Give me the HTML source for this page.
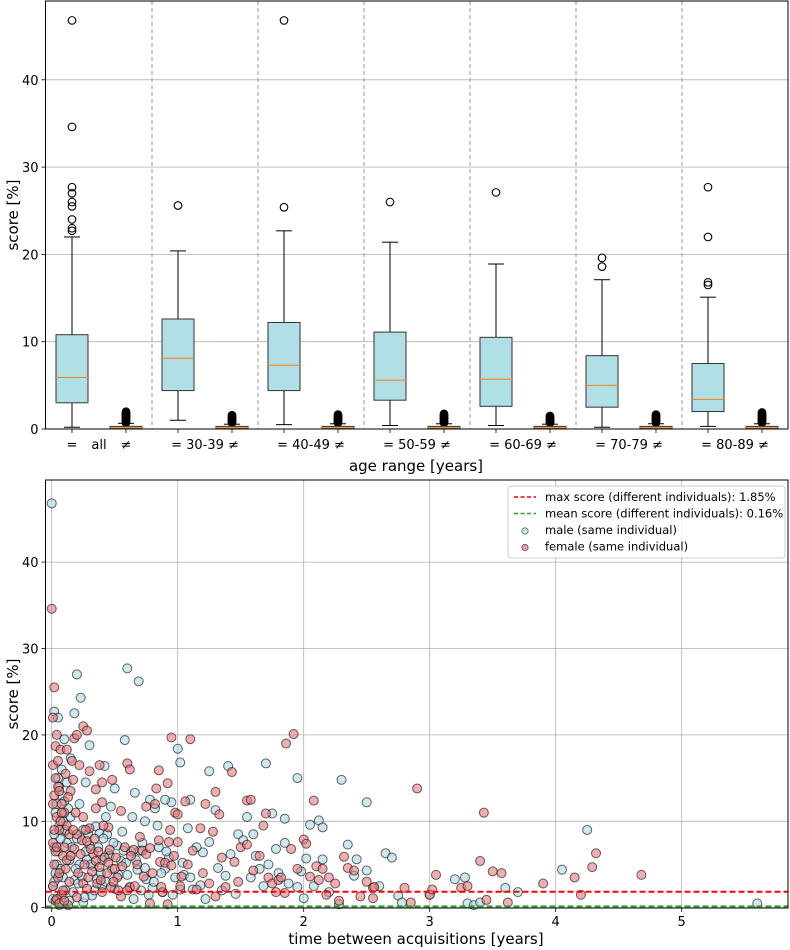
<!DOCTYPE html>
<html><head><meta charset="utf-8"><style>
body{margin:0;background:#fff}
svg{display:block;font-family:"DejaVu Sans","Liberation Sans",sans-serif}
</style></head><body>
<svg id="chart" width="790" height="950" xmlns="http://www.w3.org/2000/svg">
<g id="topPanel"></g>
<g id="botPanel"></g>
</svg>
<script>
// ---- boxplot data ----
const groups = ["all","30-39","40-49","50-59","60-69","70-79","80-89"];
const eqLow = [0.2,1.0,0.5,0.4,0.4,0.2,0.3];
const eqQ1 = [3.0,4.4,4.4,3.3,2.6,2.5,2.0];
const eqMed = [5.9,8.1,7.3,5.6,5.7,5.0,3.4];
const eqQ3 = [10.8,12.6,12.2,11.1,10.5,8.4,7.5];
const eqHigh = [22.0,20.4,22.7,21.4,18.9,17.1,15.1];
const eqOutliers = [[22.7,23.0,24.0,25.5,26.0,27.0,27.7,34.6,46.8],[25.6],[25.4,46.8],[26.0],[27.1],[18.6,19.6],[16.5,16.8,22.0,27.7]];
const neqLow = [0,0,0,0,0,0,0];
const neqQ1 = [0.05,0.05,0.05,0.05,0.05,0.05,0.05];
const neqMed = [0.15,0.15,0.15,0.15,0.15,0.15,0.15];
const neqQ3 = [0.3,0.3,0.3,0.3,0.3,0.3,0.3];
const neqHigh = [0.65,0.55,0.6,0.6,0.55,0.6,0.6];
const neqOutMax = [2.0,1.6,1.7,1.8,1.5,1.7,1.9];
const topYTicks = [0,10,20,30,40];

// ---- scatter data ----
const maleX = [0,0.02,0.05,0.2,0.23,0.18,0.6,0.69,0.58,0.1,0.15,0.3,0.42,0.5,0.66,0.78,0.95,1.0,1.02,1.25,1.4,1.7,1.95,2.3,2.5,1.3,1.1,1.55,1.75,1.85,2.05,2.12,2.15,0.05,0.08,0.03,0.06,0.1,0.12,0.02,0.15,0.04,0.07,0.09,0.01,0.11,0.05,0.14,0.2,0.25,0.3,0.35,0.38,0.45,0.28,0.33,0.4,0.48,0.55,0.52,0.6,0.62,0.7,0.72,0.75,0.8,0.65,0.5,0.4,0.32,0.25,0.88,0.9,0.98,1.02,1.05,1.12,1.2,1.25,1.32,1.35,1.42,1.48,1.52,1.6,1.62,1.65,1.72,1.78,1.8,1.85,1.95,2.0,2.02,2.15,2.2,2.28,2.35,2.4,2.42,2.5,2.65,2.7,2.75,2.78,2.6,3.0,3.2,3.3,3.35,3.4,3.6,3.7,4.05,4.25,5.6,0.02,0.06,0.18,0.22,0.36,0.44,0.57,0.68,0.82,0.15,0.22,0.27,0.1,0.47,0.85,0.93,1.08,1.15,3.28,
0.03,0.05,0.07,0.09,0.11,0.13,0.16,0.19,0.21,0.24,0.27,0.29,0.31,0.34,0.37,0.39,0.41,0.43,0.46,0.49,0.53,0.56,0.59,0.63,0.67,0.71,0.74,0.77,0.81,0.84,0.87,0.91,0.96,1.04,1.1,1.18,1.22,1.38,1.46,1.58,1.68,1.88,1.98,2.08,0.01,0.02,0.04,0.06,0.08,0.12,0.14,0.17,0.26,0.43,0.64,0.74,0.9];
const maleY = [46.8,22.7,22,27,24.3,22.5,27.7,26.2,19.4,19.5,17.3,18.8,16.4,13.8,13.3,12.5,12.2,18.4,16.8,15.8,16.4,16.7,15,14.8,12.2,11.3,12.5,10.5,10.9,10.3,9.6,10.1,9.3,15,13,11,9.5,8.8,7.5,7,6,5,4.5,3.5,2.5,2,1,0.8,8,9,7.2,9.4,8.6,6.3,5.6,4.8,5.5,4.5,5.4,7.2,3.8,2.3,6.6,7.5,3.3,2.3,1,2.2,2.6,1.4,0.6,1.8,4.5,3.5,2.1,3.8,2.1,6.4,7.6,4.6,2,6.2,8.5,7.8,8.5,6,4.5,5,6.8,4,7.5,2.4,1.1,5.7,5.6,1.8,0.4,7.3,3.7,5.6,4.3,6.3,5.8,1.4,0.6,2.5,1.5,3.3,0.5,0.3,0.6,2.3,1.8,4.4,9.0,0.5,3,0.3,3.2,5,3.3,8.5,6.6,4.4,11.5,10.5,12,14.5,12.3,11.7,7,5.8,9.2,7,3.5,
4,6.5,8,10,9,11.5,7,4.5,2.8,3.6,6.5,8.5,5,2,7,4,8,3,6,7.5,3.8,8.8,5.2,6.5,5.5,2,4.6,1.5,3,9.5,4,6.5,1.5,5.2,3.5,2.6,1,3.7,1.6,3.5,2.5,2.8,4.2,2.5,1,8.5,12,14,16,14.5,5.5,1.8,1.2,10.5,10.5,10,12.5];
const femaleX = [0,0.02,0.01,0.03,0.01,0.04,0.07,0.12,0.18,0.2,0.25,0.28,0.16,0.22,0.3,0.35,0.4,0.6,0.62,0.48,0.55,0.95,1.1,0.92,0.83,0.85,1.06,1.3,1.43,1.55,1.58,1.7,1.86,1.92,2.08,2.9,3.43,0.05,0.02,0.08,0.04,0.1,0.06,0.14,0.01,0.03,0.09,0.02,0.11,0.05,0.01,0.08,0.03,0.13,0.2,0.24,0.28,0.3,0.33,0.35,0.38,0.42,0.45,0.5,0.52,0.47,0.55,0.2,0.25,0.4,0.62,0.65,0.72,0.75,0.78,0.86,0.9,0.95,0.97,1.0,0.85,0.93,0.98,1.0,0.7,0.12,0.18,0.28,0.58,0.88,0.78,0.92,1.02,1.08,1.12,1.15,1.2,1.25,1.28,1.35,1.3,1.45,1.5,1.55,1.65,1.72,1.75,1.8,1.82,1.85,1.9,2.0,2.02,2.1,2.12,2.15,2.2,2.25,2.32,2.35,2.4,2.45,2.5,2.55,2.56,2.55,2.8,2.85,3.0,3.02,3.05,3.25,3.3,3.4,3.45,3.5,3.57,3.62,3.9,4.15,4.2,4.29,4.32,4.68,0.35,0.45,0.4,0.25,0.15,0.38,0.17,0.75,
0.02,0.04,0.06,0.07,0.09,0.1,0.12,0.14,0.15,0.17,0.19,0.21,0.23,0.26,0.27,0.29,0.31,0.32,0.34,0.36,0.37,0.39,0.41,0.44,0.46,0.49,0.51,0.53,0.56,0.6,0.63,0.66,0.68,0.73,0.8,0.82,0.87,0.94,1.03,1.18,1.22,1.33,1.38,1.48,1.6,1.68,1.78,1.95,2.05,2.18,2.28,0.01,0.03,0.05,0.06,0.08,0.11,0.13,0.04,0.06,0.1];
const femaleY = [34.6,25.5,22,18.7,16.5,20,18.3,18.3,19.6,20,21,20.5,17,16.5,15.8,13.7,14.5,16.7,16,14.8,11.2,19.7,19.5,14.4,13.8,15.9,12.3,13.4,15.7,12.4,12.5,10.9,19,20.1,12.4,13.8,11,14,13,12,10.5,11,9,8.5,7.5,6.5,6,5,4.5,3.5,2.5,1.5,0.8,0.3,8.5,7.8,7.7,9.2,6.2,5.4,4.7,5.8,5.2,4.5,3.5,2.4,1.3,1.2,2.8,1.8,2.4,6.7,6.6,6.2,6.9,5.3,5.2,4.9,6,7.6,7.8,7.6,11,10.8,8.2,9.5,6.8,2.2,7,1.8,0.5,0.4,2.5,5,6.6,2.1,4,2.8,8.8,5.8,1.3,5.3,7,7.3,6,3.5,2.8,3.2,3.5,1.7,6.8,7.9,7.4,4.8,3.2,4.5,3.5,2.8,5.9,4.6,4.3,1.3,3,2.3,2.4,1.1,2.3,0.6,1.5,2.1,3.8,2.3,2.5,5.4,0.9,4.2,4,0.6,2.8,3.5,1.5,4.7,6.3,3.8,11.5,9.3,12.2,10.5,13.5,16.5,14.8,11.7,
9,7,4,10,2,7,5.5,3,6,9,11,4,6.2,5,9,3.5,6.8,4.2,8,2.8,6.5,3.2,9.5,4,6.7,3,5.8,2,4.8,2,6,2.5,5,3.6,4,12,2.4,9,3.6,9.2,12,10.8,2.4,3,4.3,9.5,1.8,4.5,3.6,1.5,0.8,12,15,17,13.5,11,15.5,12.8,1,0.5,0.8];
const botXTicks = [0,1,2,3,4,5];
const botYTicks = [0,10,20,30,40];
const maxDiff = 1.85, meanDiff = 0.16;

const NS="http://www.w3.org/2000/svg";
function mk(parent,tag,attrs,text){const e=document.createElementNS(NS,tag);for(const k in attrs)e.setAttribute(k,attrs[k]);if(text!==undefined)e.textContent=text;parent.appendChild(e);return e;}

// ---- top panel ----
const topG=document.getElementById('topPanel');
const TL=45.5,TR=788,TT=1,TB=429;
const ty=v=>TB-v*8.73;
const gx=i=>99+106*i;
topYTicks.forEach(v=>{
  const l=mk(topG,'line',{x1:TL,x2:TR,y1:ty(v),y2:ty(v),stroke:'#b0b0b0','stroke-width':0.8});
  
  
  mk(topG,'line',{x1:TL-4,x2:TL,y1:ty(v),y2:ty(v),stroke:'#000','stroke-width':0.8});
  const t=mk(topG,'text',{x:TL-7,y:ty(v)+5,'text-anchor':'end','font-size':13},String(v));
  
  
});
for(let i=1;i<groups.length;i++){
  const x=gx(i)-53;
  const l=mk(topG,'line',{x1:x,x2:x,y1:TT,y2:TB,stroke:'#999','stroke-width':1,'stroke-dasharray':'4,3'});
  
  
}
function box(cx,lo,q1,md,q3,hi,name){
  const g=mk(topG,'g',{});
  
  
  mk(g,'line',{x1:cx,x2:cx,y1:ty(lo),y2:ty(q1),stroke:'#000','stroke-width':1});
  mk(g,'line',{x1:cx,x2:cx,y1:ty(q3),y2:ty(hi),stroke:'#000','stroke-width':1});
  mk(g,'line',{x1:cx-8,x2:cx+8,y1:ty(lo),y2:ty(lo),stroke:'#000','stroke-width':1});
  mk(g,'line',{x1:cx-8,x2:cx+8,y1:ty(hi),y2:ty(hi),stroke:'#000','stroke-width':1});
  mk(g,'rect',{x:cx-16,y:ty(q3),width:32,height:Math.max(ty(q1)-ty(q3),1),fill:'#b0dfe5',stroke:'#333','stroke-width':1});
  mk(g,'line',{x1:cx-16,x2:cx+16,y1:ty(md),y2:ty(md),stroke:'#ff7f0e','stroke-width':1});
  return g;
}
groups.forEach((gname,i)=>{
  const ex=gx(i)-27,nx=gx(i)+27;
  box(ex,eqLow[i],eqQ1[i],eqMed[i],eqQ3[i],eqHigh[i],'box-same-'+gname);
  eqOutliers[i].forEach(v=>{
    const c=mk(topG,'circle',{cx:ex,cy:ty(v),r:3.8,fill:'none',stroke:'#000','stroke-width':1.1});
    
    
  });
  for(let v=0.7;v<=neqOutMax[i]+1e-6;v+=0.08){
    mk(topG,'circle',{cx:nx,cy:ty(v),r:3.8,fill:'#000',stroke:'#000','stroke-width':1});
  }
  box(nx,neqLow[i],neqQ1[i],neqMed[i],neqQ3[i],neqHigh[i],'box-different-'+gname);
  [ex,nx].forEach(x=>mk(topG,'line',{x1:x,x2:x,y1:TB,y2:TB+4,stroke:'#000','stroke-width':0.8}));
  if(gname!=='all'){
    const lab=mk(topG,'text',{x:gx(i),y:TB+20,'text-anchor':'middle','font-size':13},'= '+gname+' ≠');
    
  } else {
    const a=mk(topG,'text',{x:ex,y:TB+20,'text-anchor':'middle','font-size':13},'=');
    
    const b=mk(topG,'text',{x:gx(i),y:TB+20,'text-anchor':'middle','font-size':13},'all');
    
    const c=mk(topG,'text',{x:nx,y:TB+20,'text-anchor':'middle','font-size':13},'≠');
    
  }
});
const tf=mk(topG,'rect',{x:TL,y:TT,width:TR-TL,height:TB-TT,fill:'none',stroke:'#000','stroke-width':1});

let t1=mk(topG,'text',{x:416,y:471,'text-anchor':'middle','font-size':15},'age range [years]');

let t2=mk(topG,'text',{x:18,y:215,'text-anchor':'middle','font-size':15,transform:'rotate(-90 18 215)'},'score [%]');


// ---- bottom panel ----
const botG=document.getElementById('botPanel');
const BL=45.5,BR=788,BT=480,BB=908;
const bx=v=>51.7+v*126;
const by=v=>907.7-v*8.64;
botYTicks.forEach(v=>{
  const l=mk(botG,'line',{x1:BL,x2:BR,y1:by(v),y2:by(v),stroke:'#b0b0b0','stroke-width':0.8});
  
  mk(botG,'line',{x1:BL-4,x2:BL,y1:by(v),y2:by(v),stroke:'#000','stroke-width':0.8});
  const t=mk(botG,'text',{x:BL-7,y:by(v)+5,'text-anchor':'end','font-size':13},String(v));
  
});
botXTicks.forEach(v=>{
  const l=mk(botG,'line',{x1:bx(v),x2:bx(v),y1:BT,y2:BB,stroke:'#b0b0b0','stroke-width':0.8});
  
  mk(botG,'line',{x1:bx(v),x2:bx(v),y1:BB,y2:BB+4,stroke:'#000','stroke-width':0.8});
  const t=mk(botG,'text',{x:bx(v),y:BB+18,'text-anchor':'middle','font-size':13},String(v));
  
});
maleX.forEach((x,i)=>{
  const c=mk(botG,'circle',{cx:bx(x),cy:by(maleY[i]),r:4.5,fill:'rgba(173,216,230,0.6)',stroke:'rgba(0,0,0,0.6)','stroke-width':1});
  
});
femaleX.forEach((x,i)=>{
  const c=mk(botG,'circle',{cx:bx(x),cy:by(femaleY[i]),r:4.5,fill:'rgba(230,120,125,0.6)',stroke:'rgba(0,0,0,0.6)','stroke-width':1});
  
});
let ml=mk(botG,'line',{x1:BL,x2:BR,y1:by(maxDiff),y2:by(maxDiff),stroke:'#ff0000','stroke-width':2,'stroke-dasharray':'6,3'});

let mn=mk(botG,'line',{x1:BL,x2:BR,y1:by(meanDiff),y2:by(meanDiff),stroke:'#2ca02c','stroke-width':2,'stroke-dasharray':'6,3'});

const bf=mk(botG,'rect',{x:BL,y:BT,width:BR-BL,height:BB-BT,fill:'none',stroke:'#000','stroke-width':1});

// legend
const lg=mk(botG,'g',{});

mk(lg,'rect',{x:508,y:486,width:277,height:72,rx:3,fill:'rgba(255,255,255,0.85)',stroke:'#ccc','stroke-width':1});
const entries=[['max score (different individuals): 1.85%','line','#ff0000'],['mean score (different individuals): 0.16%','line','#2ca02c'],['male (same individual)','dot','rgba(173,216,230,0.7)'],['female (same individual)','dot','rgba(230,120,125,0.7)']];
entries.forEach((e,i)=>{
  const y=497+i*16.5;
  const g=mk(lg,'g',{});
  
  if(e[1]==='line') mk(g,'line',{x1:514,x2:536,y1:y,y2:y,stroke:e[2],'stroke-width':1.5,'stroke-dasharray':'4,2.5'});
  else mk(g,'circle',{cx:525,cy:y+1,r:3.2,fill:e[2],stroke:'rgba(0,0,0,0.6)','stroke-width':0.8});
  mk(g,'text',{x:545,y:y+4,'font-size':11.5},e[0]);
});
let t3=mk(botG,'text',{x:416,y:944,'text-anchor':'middle','font-size':15},'time between acquisitions [years]');

let t4=mk(botG,'text',{x:18,y:694,'text-anchor':'middle','font-size':15,transform:'rotate(-90 18 694)'},'score [%]');

</script>
</body></html>
